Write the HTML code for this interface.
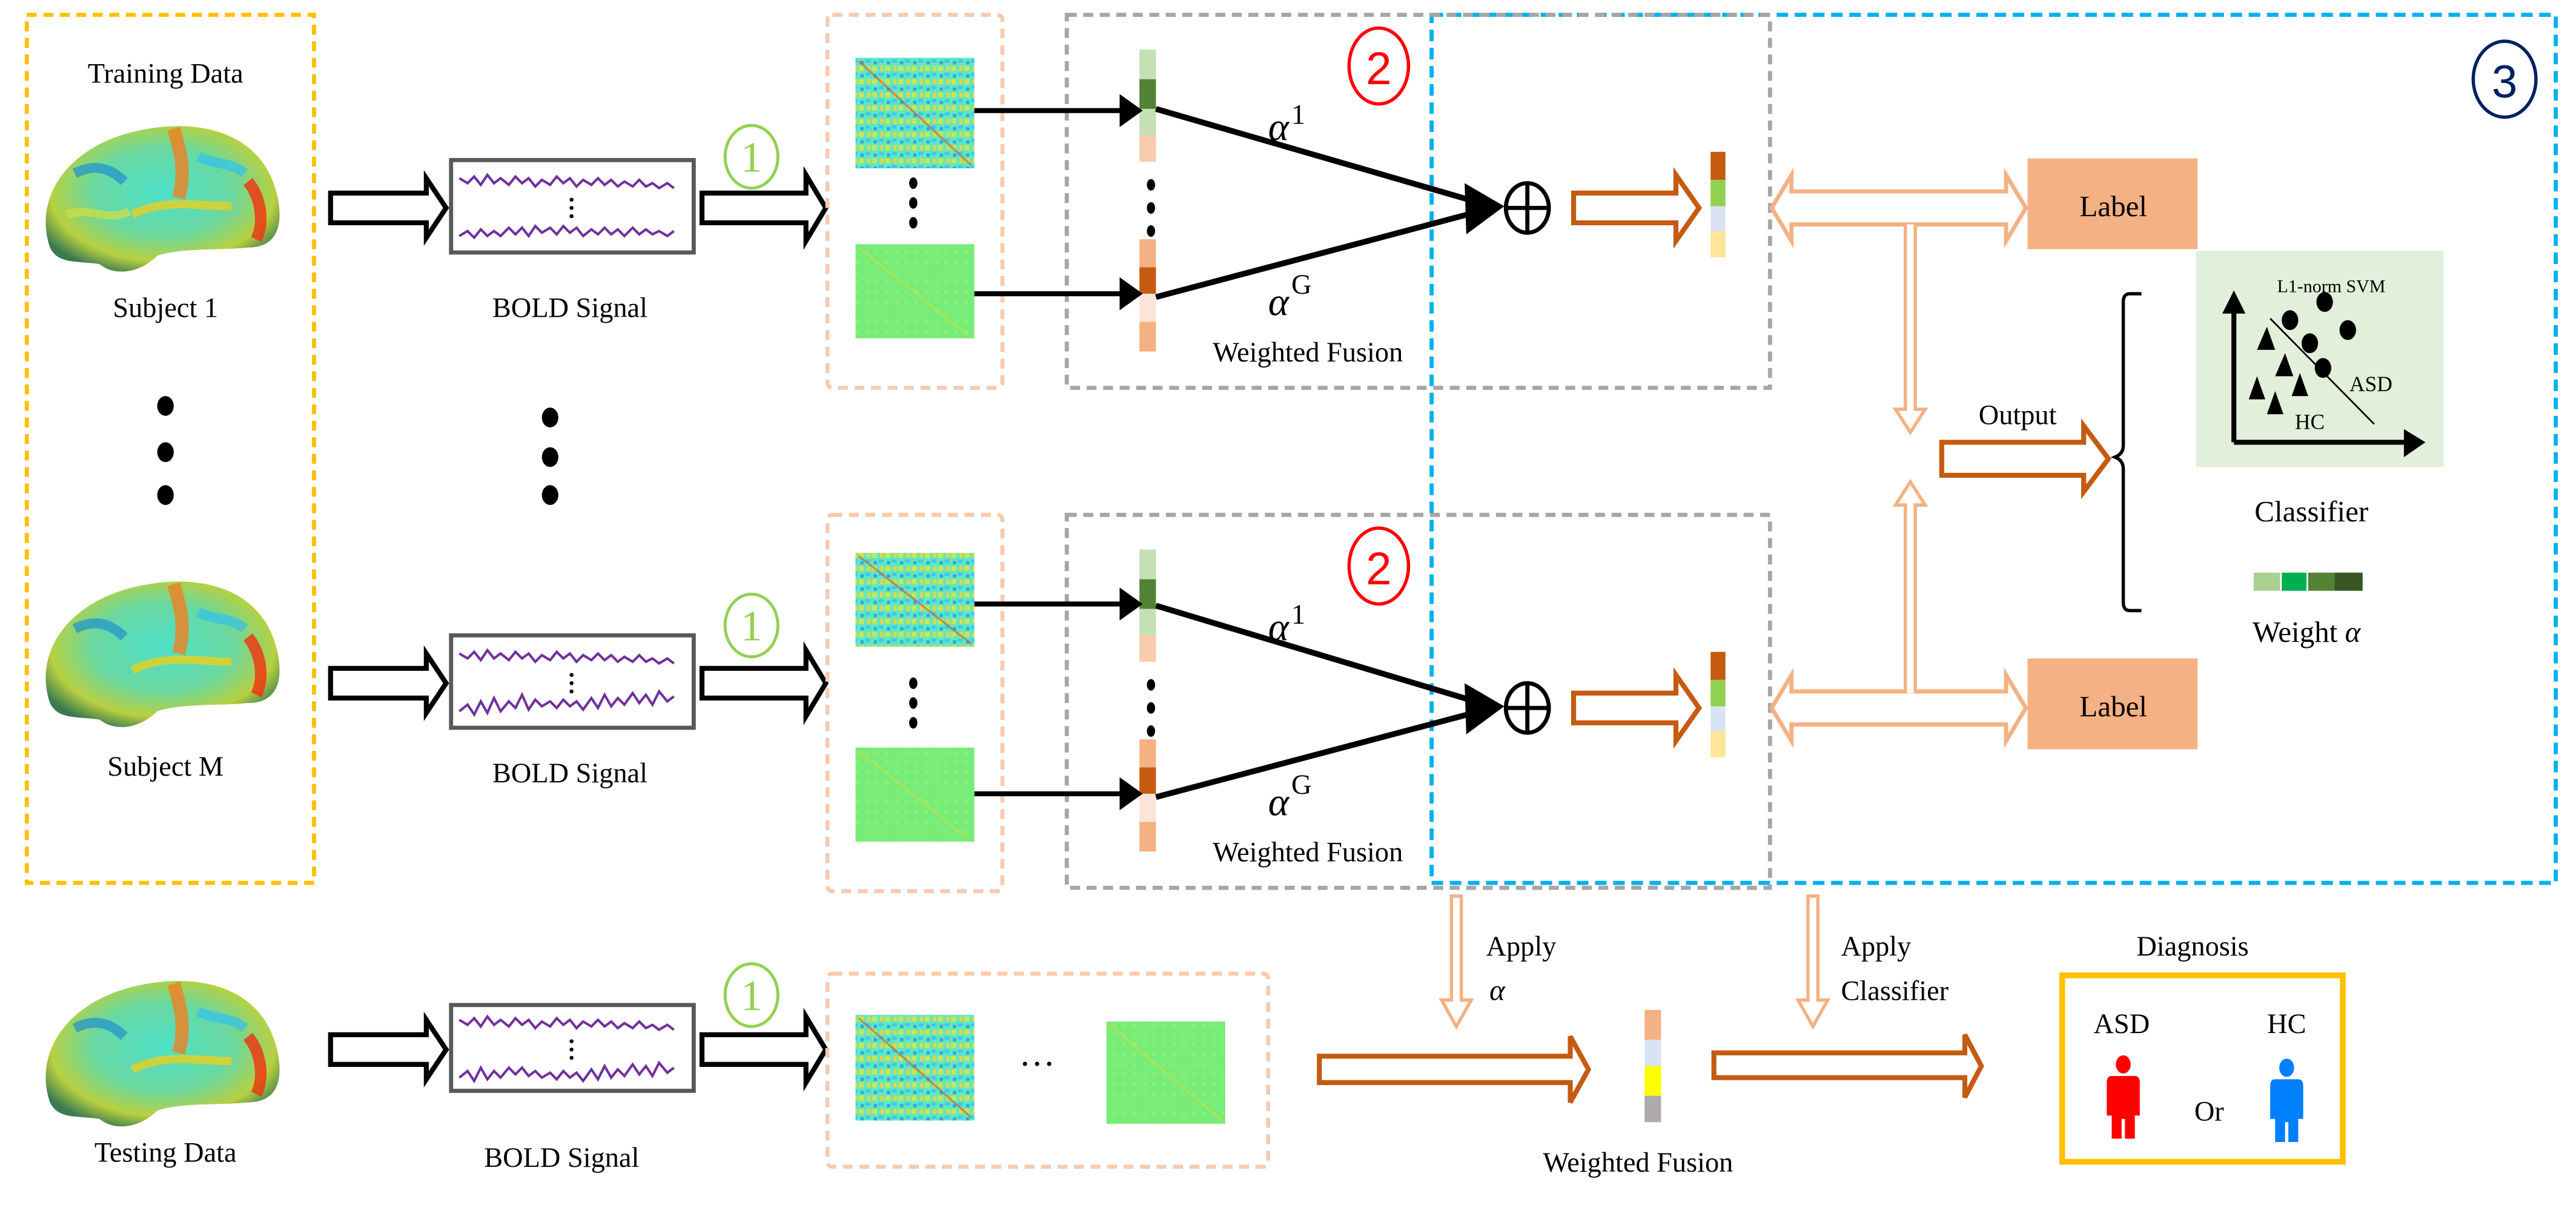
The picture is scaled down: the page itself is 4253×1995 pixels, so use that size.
<!DOCTYPE html>
<html><head><meta charset="utf-8"><style>
html,body{margin:0;padding:0;background:#fff;}
svg{display:block;}
svg text{font-family:"Liberation Serif","Times New Roman",serif;fill:#000;}
</style></head><body>
<svg width="4253" height="1995" viewBox="0 0 1560 732" xmlns="http://www.w3.org/2000/svg" font-family="Liberation Serif, serif">
<defs>
<radialGradient id="br" cx="0.5" cy="0.45" r="0.6">
<stop offset="0" stop-color="#4fe0c8"/><stop offset="0.5" stop-color="#6ad8a0"/><stop offset="0.8" stop-color="#b8d040"/><stop offset="1" stop-color="#3a7a50"/>
</radialGradient>
<pattern id="mat" width="8" height="8" patternUnits="userSpaceOnUse">
<rect width="8" height="8" fill="#5fe8c0"/>
<rect x="0" y="0" width="3" height="3" fill="#c8e850"/>
<rect x="4" y="4" width="3" height="2" fill="#40c8f0"/>
<rect x="5" y="0" width="2" height="3" fill="#f0d040"/>
<rect x="1" y="5" width="2" height="2" fill="#3aa0e0"/>
</pattern>
<pattern id="matg" width="6" height="6" patternUnits="userSpaceOnUse">
<rect width="6" height="6" fill="#78ec78"/>
<rect x="2" y="2" width="2" height="2" fill="#8cef70"/>
</pattern>
</defs>

<!-- Brains -->
<g>
<path d="M30,150 C20,120 40,90 80,80 C120,70 160,80 168,120 C172,140 165,150 150,150 C130,152 110,150 95,155 C85,165 70,168 60,160 C45,158 35,160 30,150 Z" fill="url(#br)"/>
<path d="M105,78 C110,95 112,105 108,120" stroke="#f08020" stroke-width="8" fill="none" opacity="0.8"/>
<path d="M150,110 C158,120 160,135 155,145" stroke="#f03010" stroke-width="7" fill="none" opacity="0.8"/>
<path d="M45,105 C55,100 65,100 75,110" stroke="#2090d0" stroke-width="6" fill="none" opacity="0.7"/>
<path d="M80,130 C100,120 120,125 140,125" stroke="#e8d020" stroke-width="5" fill="none" opacity="0.8"/>
<path d="M40,130 C55,125 65,135 78,128" stroke="#d0e040" stroke-width="5" fill="none" opacity="0.7"/>
<path d="M120,95 C130,100 140,98 148,105" stroke="#30c0f0" stroke-width="6" fill="none" opacity="0.7"/>
</g>
<g transform="translate(0,276)">
<path d="M30,150 C20,120 40,90 80,80 C120,70 160,80 168,120 C172,140 165,150 150,150 C130,152 110,150 95,155 C85,165 70,168 60,160 C45,158 35,160 30,150 Z" fill="url(#br)"/>
<path d="M105,78 C110,95 112,105 108,120" stroke="#f08020" stroke-width="8" fill="none" opacity="0.8"/>
<path d="M150,110 C158,120 160,135 155,145" stroke="#f03010" stroke-width="7" fill="none" opacity="0.8"/>
<path d="M45,105 C55,100 65,100 75,110" stroke="#2090d0" stroke-width="6" fill="none" opacity="0.7"/>
<path d="M80,130 C100,120 120,125 140,125" stroke="#e8d020" stroke-width="5" fill="none" opacity="0.8"/>
<path d="M120,95 C130,100 140,98 148,105" stroke="#30c0f0" stroke-width="6" fill="none" opacity="0.7"/>
</g>
<g transform="translate(0,518)">
<path d="M30,150 C20,120 40,90 80,80 C120,70 160,80 168,120 C172,140 165,150 150,150 C130,152 110,150 95,155 C85,165 70,168 60,160 C45,158 35,160 30,150 Z" fill="url(#br)"/>
<path d="M105,78 C110,95 112,105 108,120" stroke="#f08020" stroke-width="8" fill="none" opacity="0.8"/>
<path d="M150,110 C158,120 160,135 155,145" stroke="#f03010" stroke-width="7" fill="none" opacity="0.8"/>
<path d="M45,105 C55,100 65,100 75,110" stroke="#2090d0" stroke-width="6" fill="none" opacity="0.7"/>
<path d="M80,130 C100,120 120,125 140,125" stroke="#e8d020" stroke-width="5" fill="none" opacity="0.8"/>
<path d="M120,95 C130,100 140,98 148,105" stroke="#30c0f0" stroke-width="6" fill="none" opacity="0.7"/>
</g>

<!-- Training box -->
<rect x="16" y="9" width="174" height="526" fill="none" stroke="#FFC000" stroke-width="2.5" stroke-dasharray="6,4"/>
<text x="100" y="50" font-size="17" text-anchor="middle">Training Data</text>
<text x="100" y="192" font-size="17" text-anchor="middle">Subject 1</text>
<text x="100" y="470" font-size="17" text-anchor="middle">Subject M</text>
<text x="100" y="704" font-size="17" text-anchor="middle">Testing Data</text>
<g fill="#000"><ellipse cx="100" cy="246" rx="5" ry="6"/><ellipse cx="100" cy="274" rx="5" ry="6"/><ellipse cx="100" cy="300" rx="5" ry="6"/>
<ellipse cx="333" cy="253" rx="5" ry="6"/><ellipse cx="333" cy="277" rx="5" ry="6"/><ellipse cx="333" cy="300" rx="5" ry="6"/></g>

<!-- rows: BOLD and arrows -->
<g fill="none">
<path d="M200,117 L258,117 L258,108 L270,126 L258,144 L258,135 L200,135 Z" stroke="#000" stroke-width="3" fill="#fff"/>
<rect x="273" y="97" width="147" height="56" stroke="#595959" stroke-width="2.5" fill="#fff"/>
<path d="M278,108 l5,3 l4,-4 l4,5 l4,-6 l4,5 l4,-3 l5,4 l4,-5 l4,4 l4,-3 l4,5 l4,-4 l5,3 l4,-5 l4,4 l4,-3 l4,5 l4,-4 l5,3 l4,-4 l4,4 l4,-3 l4,4 l4,-3 l5,3 l4,-4 l4,4 l4,-2 l4,3 l5,-3 l4,3" stroke="#7030A0" stroke-width="1.5"/>
<path d="M278,143 l5,-3 l4,4 l4,-5 l4,4 l4,-3 l4,3 l5,-5 l4,4 l4,-4 l4,5 l4,-6 l4,4 l5,-3 l4,4 l4,-5 l4,4 l4,-3 l4,5 l5,-4 l4,3 l4,-4 l4,4 l4,-3 l4,4 l5,-5 l4,4 l4,-3 l4,3 l4,-2 l5,3 l4,-3" stroke="#7030A0" stroke-width="1.5"/>
<g fill="#000"><circle cx="346" cy="121" r="1.2"/><circle cx="346" cy="126" r="1.2"/><circle cx="346" cy="131" r="1.2"/></g>
<path d="M425,117 L488,117 L488,106 L500,126 L488,146 L488,135 L425,135 Z" stroke="#000" stroke-width="3" fill="#fff"/>
</g>
<g transform="translate(0,288)" fill="none">
<path d="M200,117 L258,117 L258,108 L270,126 L258,144 L258,135 L200,135 Z" stroke="#000" stroke-width="3" fill="#fff"/>
<rect x="273" y="97" width="147" height="56" stroke="#595959" stroke-width="2.5" fill="#fff"/>
<path d="M278,108 l5,3 l4,-4 l4,5 l4,-6 l4,5 l4,-3 l5,4 l4,-5 l4,4 l4,-3 l4,5 l4,-4 l5,3 l4,-5 l4,4 l4,-3 l4,5 l4,-4 l5,3 l4,-4 l4,4 l4,-3 l4,4 l4,-3 l5,3 l4,-4 l4,4 l4,-2 l4,3 l5,-3 l4,3" stroke="#7030A0" stroke-width="1.5"/>
<path d="M278,143 l5,-4 l4,6 l4,-8 l4,7 l4,-9 l4,8 l5,-6 l4,4 l4,-8 l4,9 l4,-6 l4,4 l5,-3 l4,4 l4,-5 l4,4 l4,-3 l4,5 l5,-7 l4,6 l4,-8 l4,7 l4,-5 l4,4 l5,-7 l4,6 l4,-5 l4,6 l4,-8 l5,6 l4,-3" stroke="#7030A0" stroke-width="1.5"/>
<g fill="#000"><circle cx="346" cy="121" r="1.2"/><circle cx="346" cy="126" r="1.2"/><circle cx="346" cy="131" r="1.2"/></g>
<path d="M425,117 L488,117 L488,106 L500,126 L488,146 L488,135 L425,135 Z" stroke="#000" stroke-width="3" fill="#fff"/>
</g>
<g transform="translate(0,510)" fill="none">
<path d="M200,117 L258,117 L258,108 L270,126 L258,144 L258,135 L200,135 Z" stroke="#000" stroke-width="3" fill="#fff"/>
<rect x="273" y="99" width="147" height="52" stroke="#595959" stroke-width="2.5" fill="#fff"/>
<path d="M278,108 l5,3 l4,-4 l4,5 l4,-6 l4,5 l4,-3 l5,4 l4,-5 l4,4 l4,-3 l4,5 l4,-4 l5,3 l4,-5 l4,4 l4,-3 l4,5 l4,-4 l5,3 l4,-4 l4,4 l4,-3 l4,4 l4,-3 l5,3 l4,-4 l4,4 l4,-2 l4,3 l5,-3 l4,3" stroke="#7030A0" stroke-width="1.5"/>
<path d="M278,143 l5,-4 l4,6 l4,-8 l4,7 l4,-5 l4,4 l5,-6 l4,4 l4,-4 l4,5 l4,-3 l4,4 l5,-3 l4,4 l4,-5 l4,4 l4,-3 l4,5 l5,-7 l4,6 l4,-8 l4,7 l4,-5 l4,4 l5,-7 l4,6 l4,-5 l4,6 l4,-8 l5,6 l4,-3" stroke="#7030A0" stroke-width="1.5"/>
<g fill="#000"><circle cx="346" cy="121" r="1.2"/><circle cx="346" cy="126" r="1.2"/><circle cx="346" cy="131" r="1.2"/></g>
<path d="M425,117 L488,117 L488,106 L500,126 L488,146 L488,135 L425,135 Z" stroke="#000" stroke-width="3" fill="#fff"/>
</g>
<text x="345" y="192" font-size="17" text-anchor="middle">BOLD Signal</text>
<text x="345" y="474" font-size="17" text-anchor="middle">BOLD Signal</text>
<text x="340" y="707" font-size="17" text-anchor="middle">BOLD Signal</text>
<g fill="none" stroke="#92D050" stroke-width="1.8">
<ellipse cx="455" cy="95" rx="16" ry="19"/><ellipse cx="455" cy="379" rx="16" ry="19"/><ellipse cx="455" cy="603" rx="16" ry="19"/>
</g>
<g font-size="26" text-anchor="middle">
<text x="455" y="104" style="fill:#92D050">1</text><text x="455" y="388" style="fill:#92D050">1</text><text x="455" y="612" style="fill:#92D050">1</text>
</g>

<!-- Blue box -->
<rect x="867" y="9" width="681" height="526" fill="none" stroke="#00B0F0" stroke-width="2.5" stroke-dasharray="7,4"/>
<ellipse cx="1517" cy="48" rx="19" ry="23" fill="none" stroke="#002060" stroke-width="2"/>
<text x="1517" y="59" font-size="28" text-anchor="middle" style="font-family:'Liberation Sans',sans-serif;fill:#002060">3</text>

<!-- Upper fusion block -->
<g>
<rect x="501" y="9" width="106" height="226" fill="none" stroke="#F8CBAD" stroke-width="2.5" stroke-dasharray="6,4" rx="3"/>
<rect x="518" y="35" width="72" height="67" fill="url(#mat)"/>
<path d="M520,37 L588,100" stroke="#e05020" stroke-width="1.2" opacity="0.6"/>
<rect x="518" y="148" width="72" height="57" fill="url(#matg)"/>
<path d="M520,150 L586,203" stroke="#c8e040" stroke-width="1" opacity="0.7"/>
<g fill="#000"><ellipse cx="553" cy="111" rx="2.5" ry="3.5"/><ellipse cx="553" cy="123" rx="2.5" ry="3.5"/><ellipse cx="553" cy="135" rx="2.5" ry="3.5"/></g>
<rect x="646" y="9" width="426" height="226" fill="none" stroke="#A6A6A6" stroke-width="2.5" stroke-dasharray="6,4"/>
<rect x="690" y="30" width="10" height="18" fill="#C5E0B4"/>
<rect x="690" y="48" width="10" height="18" fill="#548235"/>
<rect x="690" y="66" width="10" height="16" fill="#C5E0B4"/>
<rect x="690" y="82" width="10" height="16" fill="#F8CBAD"/>
<rect x="690" y="145" width="10" height="17" fill="#F4B183"/>
<rect x="690" y="162" width="10" height="16" fill="#C55A11"/>
<rect x="690" y="178" width="10" height="17" fill="#FBE5D6"/>
<rect x="690" y="195" width="10" height="18" fill="#F4B183"/>
<g fill="#000"><ellipse cx="697" cy="112" rx="2.5" ry="3.5"/><ellipse cx="697" cy="126" rx="2.5" ry="3.5"/><ellipse cx="697" cy="140" rx="2.5" ry="3.5"/></g>
<line x1="590" y1="67" x2="680" y2="67" stroke="#000" stroke-width="3"/>
<path d="M678,57 L692,67 L678,77 Z" fill="#000"/>
<line x1="590" y1="178" x2="680" y2="178" stroke="#000" stroke-width="3"/>
<path d="M678,168 L692,178 L678,188 Z" fill="#000"/>
<line x1="700" y1="66" x2="900" y2="124" stroke="#000" stroke-width="3.5"/>
<line x1="700" y1="180" x2="900" y2="127" stroke="#000" stroke-width="3.5"/>
<path d="M887,111 L911,125 L888,142 Z" fill="#000"/>
<text x="768" y="85" font-size="24" font-style="italic">α</text><text x="782" y="75" font-size="17">1</text>
<text x="768" y="191" font-size="24" font-style="italic">α</text><text x="782" y="178" font-size="17">G</text>
<text x="792" y="219" font-size="17" text-anchor="middle">Weighted Fusion</text>
<ellipse cx="835" cy="40" rx="18" ry="23" fill="none" stroke="#FF0000" stroke-width="2"/>
<text x="835" y="51" font-size="28" text-anchor="middle" style="font-family:'Liberation Sans',sans-serif;fill:#FF0000">2</text>
<ellipse cx="925" cy="126" rx="13" ry="15" fill="#fff" stroke="#000" stroke-width="2.5"/>
<line x1="912" y1="126" x2="938" y2="126" stroke="#000" stroke-width="2.5"/><line x1="925" y1="111" x2="925" y2="141" stroke="#000" stroke-width="2.5"/>
<path d="M953,117 L1015,117 L1015,106 L1029,126 L1015,146 L1015,135 L953,135 Z" fill="#fff" stroke="#C55A11" stroke-width="3"/>
<rect x="1036" y="92" width="9" height="17" fill="#C55A11"/>
<rect x="1036" y="109" width="9" height="16" fill="#92D050"/>
<rect x="1036" y="125" width="9" height="15" fill="#DAE3F3"/>
<rect x="1036" y="140" width="9" height="16" fill="#FFE699"/>
<path d="M1073,126 L1085,106 L1085,116 L1215,116 L1215,106 L1227,126 L1215,146 L1215,136 L1085,136 L1085,146 Z" fill="#fff" stroke="#F4B183" stroke-width="2.5"/>
<rect x="1228" y="96" width="103" height="55" fill="#F4B183"/>
<text x="1280" y="131" font-size="18" text-anchor="middle">Label</text>
</g>
<g transform="translate(0,303)">
<rect x="501" y="9" width="106" height="228" fill="none" stroke="#F8CBAD" stroke-width="2.5" stroke-dasharray="6,4" rx="3"/>
<rect x="518" y="32" width="72" height="57" fill="url(#mat)"/>
<path d="M520,34 L588,87" stroke="#e05020" stroke-width="1.2" opacity="0.6"/>
<rect x="518" y="150" width="72" height="57" fill="url(#matg)"/>
<path d="M520,152 L586,205" stroke="#c8e040" stroke-width="1" opacity="0.7"/>
<g fill="#000"><ellipse cx="553" cy="111" rx="2.5" ry="3.5"/><ellipse cx="553" cy="123" rx="2.5" ry="3.5"/><ellipse cx="553" cy="135" rx="2.5" ry="3.5"/></g>
<rect x="646" y="9" width="426" height="226" fill="none" stroke="#A6A6A6" stroke-width="2.5" stroke-dasharray="6,4"/>
<rect x="690" y="30" width="10" height="18" fill="#C5E0B4"/>
<rect x="690" y="48" width="10" height="18" fill="#548235"/>
<rect x="690" y="66" width="10" height="16" fill="#C5E0B4"/>
<rect x="690" y="82" width="10" height="16" fill="#F8CBAD"/>
<rect x="690" y="145" width="10" height="17" fill="#F4B183"/>
<rect x="690" y="162" width="10" height="16" fill="#C55A11"/>
<rect x="690" y="178" width="10" height="17" fill="#FBE5D6"/>
<rect x="690" y="195" width="10" height="18" fill="#F4B183"/>
<g fill="#000"><ellipse cx="697" cy="112" rx="2.5" ry="3.5"/><ellipse cx="697" cy="126" rx="2.5" ry="3.5"/><ellipse cx="697" cy="140" rx="2.5" ry="3.5"/></g>
<line x1="590" y1="63" x2="680" y2="63" stroke="#000" stroke-width="3"/>
<path d="M678,53 L692,63 L678,73 Z" fill="#000"/>
<line x1="590" y1="178" x2="680" y2="178" stroke="#000" stroke-width="3"/>
<path d="M678,168 L692,178 L678,188 Z" fill="#000"/>
<line x1="700" y1="64" x2="900" y2="124" stroke="#000" stroke-width="3.5"/>
<line x1="700" y1="180" x2="900" y2="127" stroke="#000" stroke-width="3.5"/>
<path d="M887,111 L911,125 L888,142 Z" fill="#000"/>
<text x="768" y="85" font-size="24" font-style="italic">α</text><text x="782" y="75" font-size="17">1</text>
<text x="768" y="191" font-size="24" font-style="italic">α</text><text x="782" y="178" font-size="17">G</text>
<text x="792" y="219" font-size="17" text-anchor="middle">Weighted Fusion</text>
<ellipse cx="835" cy="40" rx="18" ry="23" fill="none" stroke="#FF0000" stroke-width="2"/>
<text x="835" y="51" font-size="28" text-anchor="middle" style="font-family:'Liberation Sans',sans-serif;fill:#FF0000">2</text>
<ellipse cx="925" cy="126" rx="13" ry="15" fill="#fff" stroke="#000" stroke-width="2.5"/>
<line x1="912" y1="126" x2="938" y2="126" stroke="#000" stroke-width="2.5"/><line x1="925" y1="111" x2="925" y2="141" stroke="#000" stroke-width="2.5"/>
<path d="M953,117 L1015,117 L1015,106 L1029,126 L1015,146 L1015,135 L953,135 Z" fill="#fff" stroke="#C55A11" stroke-width="3"/>
<rect x="1036" y="92" width="9" height="17" fill="#C55A11"/>
<rect x="1036" y="109" width="9" height="16" fill="#92D050"/>
<rect x="1036" y="125" width="9" height="15" fill="#DAE3F3"/>
<rect x="1036" y="140" width="9" height="16" fill="#FFE699"/>
<path d="M1073,126 L1085,106 L1085,116 L1215,116 L1215,106 L1227,126 L1215,146 L1215,136 L1085,136 L1085,146 Z" fill="#fff" stroke="#F4B183" stroke-width="2.5"/>
<rect x="1228" y="96" width="103" height="55" fill="#F4B183"/>
<text x="1280" y="131" font-size="18" text-anchor="middle">Label</text>
</g>

<!-- vertical peach arrows -->
<path d="M1154,136 L1154,248 L1148,248 L1157,262 L1166,248 L1160,248 L1160,136" fill="#fff" stroke="#F4B183" stroke-width="2"/>
<path d="M1154,420 L1154,306 L1148,306 L1157,292 L1166,306 L1160,306 L1160,420" fill="#fff" stroke="#F4B183" stroke-width="2"/>

<!-- Output -->
<text x="1222" y="257" font-size="17" text-anchor="middle">Output</text>
<path d="M1176,268 L1262,268 L1262,258 L1277,278 L1262,298 L1262,288 L1176,288 Z" fill="#fff" stroke="#C55A11" stroke-width="3"/>
<path d="M1297,178 L1290,178 Q1286,178 1286,183 L1286,270 Q1286,275 1281,277 Q1286,279 1286,284 L1286,365 Q1286,370 1290,370 L1297,370" fill="none" stroke="#000" stroke-width="2"/>
<rect x="1330" y="152" width="150" height="131" fill="#E2EFDA"/>
<text x="1412" y="177" font-size="11" text-anchor="middle">L1-norm SVM</text>
<line x1="1353" y1="268" x2="1460" y2="268" stroke="#000" stroke-width="3"/>
<path d="M1456,260 L1469,268 L1456,277 Z" fill="#000"/>
<line x1="1353" y1="268" x2="1353" y2="185" stroke="#000" stroke-width="3"/>
<path d="M1346,190 L1353,176 L1360,190 Z" fill="#000"/>
<line x1="1375" y1="193" x2="1438" y2="257" stroke="#000" stroke-width="1"/>
<g fill="#000">
<ellipse cx="1387" cy="194" rx="5" ry="6"/><ellipse cx="1408" cy="183" rx="5" ry="6"/><ellipse cx="1399" cy="208" rx="5" ry="6"/><ellipse cx="1422" cy="200" rx="5" ry="6"/><ellipse cx="1407" cy="223" rx="5" ry="6"/>
<path d="M1367,212 L1373,198 L1378,212Z"/><path d="M1378,228 L1384,214 L1389,228Z"/><path d="M1362,242 L1367,228 L1372,242Z"/><path d="M1388,240 L1393,226 L1398,240Z"/><path d="M1373,251 L1378,237 L1383,251Z"/>
</g>
<text x="1436" y="237" font-size="13" text-anchor="middle">ASD</text>
<text x="1399" y="260" font-size="13" text-anchor="middle">HC</text>
<text x="1400" y="316" font-size="18" text-anchor="middle">Classifier</text>
<rect x="1365" y="347" width="16" height="11" fill="#A9D18E"/>
<rect x="1382" y="347" width="15" height="11" fill="#00B050"/>
<rect x="1398" y="347" width="16" height="11" fill="#548235"/>
<rect x="1414" y="347" width="17" height="11" fill="#375623"/>
<text x="1397" y="389" font-size="18" text-anchor="middle">Weight <tspan font-style="italic">α</tspan></text>

<!-- Bottom row -->
<rect x="501" y="590" width="267" height="117" fill="none" stroke="#F8CBAD" stroke-width="2.5" stroke-dasharray="6,4" rx="3"/>
<rect x="518" y="615" width="72" height="64" fill="url(#mat)"/>
<path d="M520,617 L588,677" stroke="#e05020" stroke-width="1.2" opacity="0.6"/>
<rect x="670" y="619" width="72" height="62" fill="url(#matg)"/>
<path d="M672,621 L740,679" stroke="#c8e040" stroke-width="1" opacity="0.7"/>
<text x="628" y="652" font-size="22" text-anchor="middle">···</text>

<path d="M879,543 L879,606 L873,606 L882,622 L891,606 L885,606 L885,543 Z" fill="#fff" stroke="#F4B183" stroke-width="2"/>
<text x="900" y="579" font-size="17">Apply</text>
<text x="902" y="606" font-size="18" font-style="italic">α</text>
<path d="M1095,543 L1095,606 L1089,606 L1098,622 L1107,606 L1101,606 L1101,543 Z" fill="#fff" stroke="#F4B183" stroke-width="2"/>
<text x="1115" y="579" font-size="17">Apply</text>
<text x="1115" y="606" font-size="17">Classifier</text>

<path d="M799,640 L951,640 L951,628 L962,648 L951,668 L951,656 L799,656 Z" fill="#fff" stroke="#C55A11" stroke-width="3"/>
<rect x="996" y="612" width="10" height="18" fill="#F4B183"/>
<rect x="996" y="630" width="10" height="16" fill="#DAE3F3"/>
<rect x="996" y="646" width="10" height="18" fill="#FFFF00"/>
<rect x="996" y="664" width="10" height="16" fill="#AEAAAA"/>
<text x="992" y="710" font-size="17" text-anchor="middle">Weighted Fusion</text>
<path d="M1038,638 L1190,638 L1190,627 L1200,646 L1190,665 L1190,653 L1038,653 Z" fill="#fff" stroke="#C55A11" stroke-width="3"/>

<text x="1328" y="579" font-size="17" text-anchor="middle">Diagnosis</text>
<rect x="1249" y="591" width="170" height="113" fill="none" stroke="#FFC000" stroke-width="3.5"/>
<text x="1285" y="626" font-size="17" text-anchor="middle">ASD</text>
<text x="1385" y="626" font-size="17" text-anchor="middle">HC</text>
<text x="1338" y="679" font-size="17" text-anchor="middle">Or</text>
<g fill="#FF0000">
<ellipse cx="1286" cy="645" rx="4.5" ry="5.5"/>
<path d="M1279,652 L1293,652 Q1296,652 1296,656 L1296,676 L1293,676 L1293,690 L1287,690 L1287,678 L1285,678 L1285,690 L1279,690 L1279,676 L1276,676 L1276,656 Q1276,652 1279,652Z"/>
</g>
<g fill="#0080FF">
<ellipse cx="1385" cy="647" rx="4.5" ry="5.5"/>
<path d="M1378,654 L1392,654 Q1395,654 1395,658 L1395,678 L1392,678 L1392,692 L1386,692 L1386,680 L1384,680 L1384,692 L1378,692 L1378,678 L1375,678 L1375,658 Q1375,654 1378,654Z"/>
</g>
</svg>
</body></html>
